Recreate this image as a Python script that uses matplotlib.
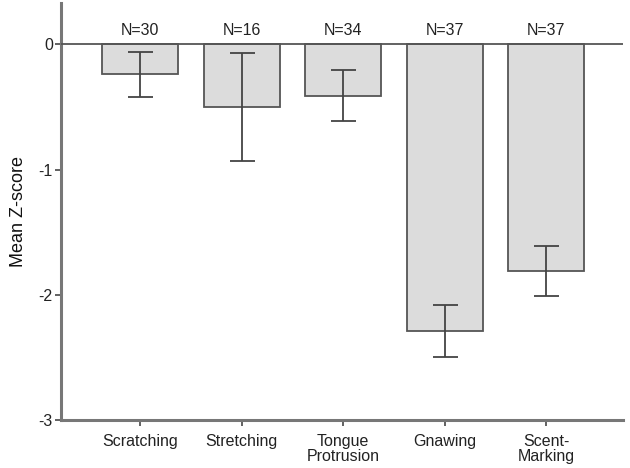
import numpy as np
import matplotlib
matplotlib.use("Agg")
import matplotlib.pyplot as plt

plt.rcParams['font.family'] = ['Liberation Sans', 'DejaVu Sans']

categories = ['Scratching', 'Stretching', 'Tongue\nProtrusion', 'Gnawing', 'Scent-\nMarking']
means = [-0.24, -0.50, -0.41, -2.29, -1.81]
errors = [0.18, 0.43, 0.205, 0.21, 0.20]
counts = [30, 16, 34, 37, 37]
yticks = [0, -1, -2, -3]

fig = plt.figure(figsize=(6.3, 4.68), dpi=100)
ax = fig.add_axes([0.097, 0.1026, 0.892, 0.891])

x = np.arange(len(categories))
ax.bar(x, means, width=0.75, color='#dcdcdc', edgecolor='#555555', linewidth=1.3, zorder=2)
ax.errorbar(x, means, yerr=errors, fmt='none', ecolor='#444444', elinewidth=1.3,
            capsize=9, capthick=1.3, zorder=3)
ax.axhline(0, color='#555555', linewidth=1.3, zorder=4)

for xi, n in zip(x, counts):
    ax.text(xi, 0.05, 'N=%d' % n, ha='center', va='bottom', fontsize=11.5, color='#222222')

ax.set_xlim(-0.78, 4.76)
ax.set_ylim(-3, 0.33)
ax.set_yticks(yticks)
ax.set_yticklabels(['0', '-1', '-2', '-3'])
ax.set_xticks(x)
ax.set_xticklabels(categories, fontsize=11.5, linespacing=1.05)
ax.set_ylabel('Mean Z-score', fontsize=13, labelpad=8, color='#111111')

for s in ['top', 'right']:
    ax.spines[s].set_visible(False)
for s in ['left', 'bottom']:
    ax.spines[s].set_color('#777777')
    ax.spines[s].set_linewidth(2.2)
ax.tick_params(axis='both', direction='out', length=4, width=1.3, color='#555555',
               labelsize=11.5, labelcolor='#222222')
ax.tick_params(axis='x', pad=6)
ax.tick_params(axis='y', pad=2)

fig.savefig('out.png', dpi=100)
